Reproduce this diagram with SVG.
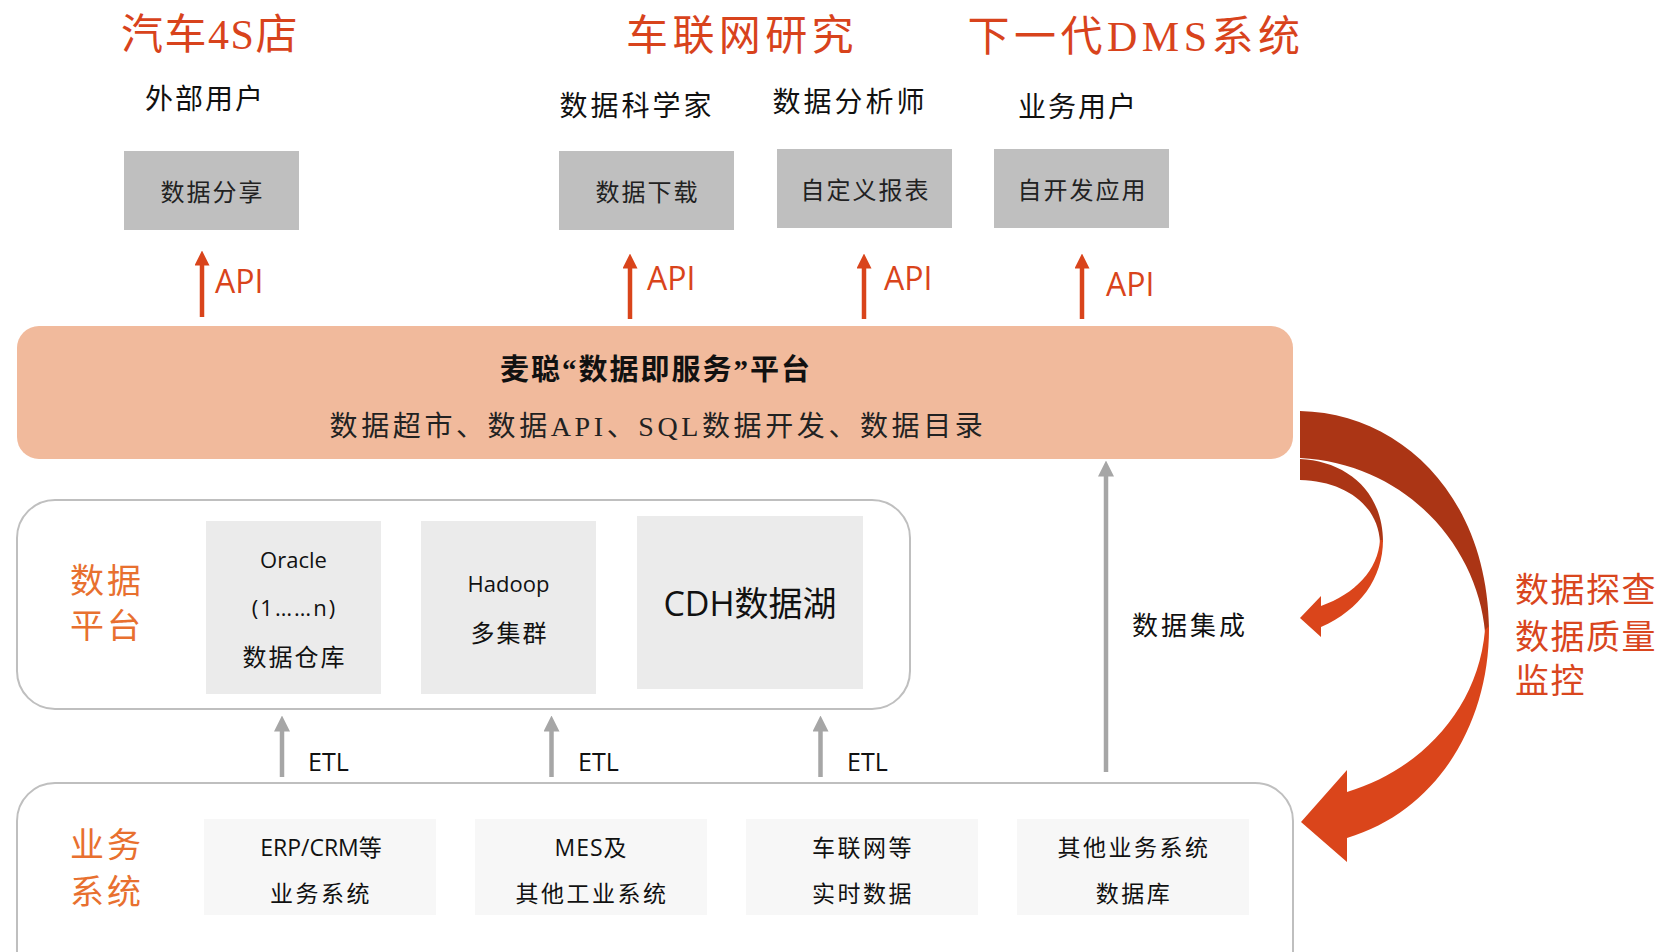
<svg xmlns="http://www.w3.org/2000/svg" width="1663" height="952" viewBox="0 0 1663 952">
<style>
.serif{font-family:"Liberation Serif","Noto Sans CJK SC",serif;}
.sans{font-family:"Open Sans","Noto Sans CJK SC",sans-serif;}
.title{font-size:42px;fill:#d8431c;text-anchor:middle;}
.user{font-size:28px;fill:#111;text-anchor:middle;letter-spacing:2px;}
.topbox{fill:#bfbfbf;}
.boxtxt{font-size:24px;fill:#222;text-anchor:middle;letter-spacing:2px;}
.api{font-size:32px;fill:#d9441b;}
.apiline{stroke:#d9441b;stroke-width:4.5;fill:none;}
.grayline{stroke:#a6a6a6;stroke-width:4.5;fill:none;}
.frame{fill:#fff;stroke:#bfbfbf;stroke-width:2;}
.dpbox{fill:#ebebeb;}
.bizbox{fill:#f7f7f7;}
.label{font-size:34px;fill:#e8702f;text-anchor:middle;letter-spacing:3px;}
.t22{font-size:22px;fill:#111;text-anchor:middle;}
.t24{font-size:24px;fill:#111;text-anchor:middle;letter-spacing:2px;}
.t23{font-size:23px;fill:#111;text-anchor:middle;letter-spacing:2.5px;}
.etl{font-size:25px;fill:#111;}
.dark{fill:#ab3515;}
.orange{fill:#da451b;}
</style>
<defs>
<marker id="headOrange" markerUnits="userSpaceOnUse" markerWidth="15" markerHeight="15" viewBox="0 0 15 15" refX="0.5" refY="7.5" orient="auto">
<path d="M0,0 L15,7.5 L0,15 Z" fill="#d9441b"/>
</marker>
<marker id="headGray" markerUnits="userSpaceOnUse" markerWidth="16" markerHeight="16" viewBox="0 0 16 16" refX="0.5" refY="8" orient="auto">
<path d="M0,0 L16,8 L0,16 Z" fill="#a6a6a6"/>
</marker>
</defs>
<rect width="1663" height="952" fill="#fff"/>

<!-- titles -->
<g id="titles" class="serif">
<text class="title" x="210" y="49" style="letter-spacing:1.5px">汽车4S店</text>
<text class="title" x="742" y="50" style="letter-spacing:4.4px">车联网研究</text>
<text class="title" x="1136" y="51" style="letter-spacing:4.5px">下一代DMS系统</text>
</g>

<g id="users" class="serif">
<text class="user" x="205" y="109">外部用户</text>
<text class="user" x="637" y="116" style="letter-spacing:3px">数据科学家</text>
<text class="user" x="850" y="112" style="letter-spacing:3px">数据分析师</text>
<text class="user" x="1078" y="117">业务用户</text>
</g>

<g id="node-share">
<rect class="topbox" x="124" y="151" width="175" height="79"/>
<text class="serif boxtxt" x="212.5" y="201">数据分享</text>
</g>
<g id="node-download">
<rect class="topbox" x="559" y="151" width="175" height="79"/>
<text class="serif boxtxt" x="647.5" y="201">数据下载</text>
</g>
<g id="node-report">
<rect class="topbox" x="777" y="149" width="175" height="79"/>
<text class="serif boxtxt" x="865.5" y="199">自定义报表</text>
</g>
<g id="node-app">
<rect class="topbox" x="994" y="149" width="175" height="79"/>
<text class="serif boxtxt" x="1082.5" y="199">自开发应用</text>
</g>

<g id="node-platform">
<rect x="17" y="326" width="1276" height="133" rx="22" fill="#f1ba9c"/>
<text class="serif" x="656" y="380" style="font-size:29px;font-weight:bold;letter-spacing:2px;text-anchor:middle;fill:#111">麦聪“数据即服务”平台</text>
<text class="serif" x="658" y="436" style="font-size:28px;letter-spacing:3.6px;text-anchor:middle;fill:#222">数据超市、数据API、SQL数据开发、数据目录</text>
</g>

<g id="node-dataplatform">
<rect class="frame" x="17" y="500" width="893" height="209" rx="38"/>
<text class="serif label" x="107" y="593">数据</text>
<text class="serif label" x="107" y="638">平台</text>
</g>
<g id="node-oracle">
<rect class="dpbox" x="206" y="521" width="175" height="173"/>
<text class="sans t22" x="293.5" y="568">Oracle</text>
<text class="sans t22" x="294.5" y="616" style="letter-spacing:2px">(1……n)</text>
<text class="serif t24" x="294.5" y="666">数据仓库</text>
</g>
<g id="node-hadoop">
<rect class="dpbox" x="421" y="521" width="175" height="173"/>
<text class="sans t22" x="508.5" y="592">Hadoop</text>
<text class="serif t24" x="509.5" y="642">多集群</text>
</g>
<g id="node-cdh">
<rect class="dpbox" x="637" y="516" width="226" height="173"/>
<text class="sans" x="750" y="616" style="font-size:34px;fill:#111;text-anchor:middle">CDH数据湖</text>
</g>

<g id="node-business">
<rect class="frame" x="17" y="783" width="1276" height="220" rx="38"/>
<text class="serif label" x="107" y="857">业务</text>
<text class="serif label" x="107" y="904">系统</text>
</g>
<g id="node-erp">
<rect class="bizbox" x="204" y="819" width="232" height="96"/>
<text class="sans t23" x="321" y="856" style="letter-spacing:0">ERP/CRM等</text>
<text class="serif t23" x="321" y="902">业务系统</text>
</g>
<g id="node-mes">
<rect class="bizbox" x="475" y="819" width="232" height="96"/>
<text class="sans t23" x="591" y="856" style="letter-spacing:1px">MES及</text>
<text class="serif t23" x="592" y="902">其他工业系统</text>
</g>
<g id="node-iov">
<rect class="bizbox" x="746" y="819" width="232" height="96"/>
<text class="serif t23" x="863" y="856">车联网等</text>
<text class="serif t23" x="863" y="902">实时数据</text>
</g>
<g id="node-other">
<rect class="bizbox" x="1017" y="819" width="232" height="96"/>
<text class="serif t23" x="1134" y="856">其他业务系统</text>
<text class="serif t23" x="1134" y="902">数据库</text>
</g>

<g id="connectors">
<line class="apiline" x1="202" y1="317" x2="202" y2="265" marker-end="url(#headOrange)"/>
<line class="apiline" x1="630" y1="319" x2="630" y2="268" marker-end="url(#headOrange)"/>
<line class="apiline" x1="864" y1="319" x2="864" y2="268" marker-end="url(#headOrange)"/>
<line class="apiline" x1="1082" y1="319" x2="1082" y2="268" marker-end="url(#headOrange)"/>
<text class="sans api" x="215" y="293">API</text>
<text class="sans api" x="647" y="290">API</text>
<text class="sans api" x="884" y="290">API</text>
<text class="sans api" x="1106" y="296">API</text>

<line class="grayline" x1="282" y1="777" x2="282" y2="731" marker-end="url(#headGray)"/>
<line class="grayline" x1="551.5" y1="777" x2="551.5" y2="731" marker-end="url(#headGray)"/>
<line class="grayline" x1="820.5" y1="777" x2="820.5" y2="731" marker-end="url(#headGray)"/>
<text class="sans etl" x="308" y="771">ETL</text>
<text class="sans etl" x="578" y="771">ETL</text>
<text class="sans etl" x="847" y="771">ETL</text>

<line class="grayline" x1="1106" y1="772" x2="1106" y2="476" marker-end="url(#headGray)"/>
<text class="serif" x="1132" y="635" style="font-size:26px;letter-spacing:3px;fill:#111">数据集成</text>

<!-- big curved arrow -->
<path class="dark" d="M1300,411 C1400,413 1487,495 1489,628 L1485,632 C1478,550 1410,464 1300,458 Z"/>
<path class="orange" d="M1489,626 C1490,720 1440,810 1347,838 L1347,862 L1301,822 L1347,770 L1347,792 C1420,770 1478,710 1485,630 Z"/>
<!-- small curved arrow -->
<path class="dark" d="M1300,459 C1345,461 1383,490 1383,542 L1380,542 C1378,505 1345,481 1300,480 Z"/>
<path class="orange" d="M1383,540 C1383,578 1360,610 1321,627 L1321,637 L1300,618 L1321,596 L1321,606 C1355,594 1378,570 1380,540 Z"/>
</g>

<g id="monitor-label" class="serif" style="font-size:34px;fill:#d9461e;letter-spacing:1.5px">
<text x="1515" y="602">数据探查</text>
<text x="1515" y="649">数据质量</text>
<text x="1515" y="693">监控</text>
</g>
</svg>
